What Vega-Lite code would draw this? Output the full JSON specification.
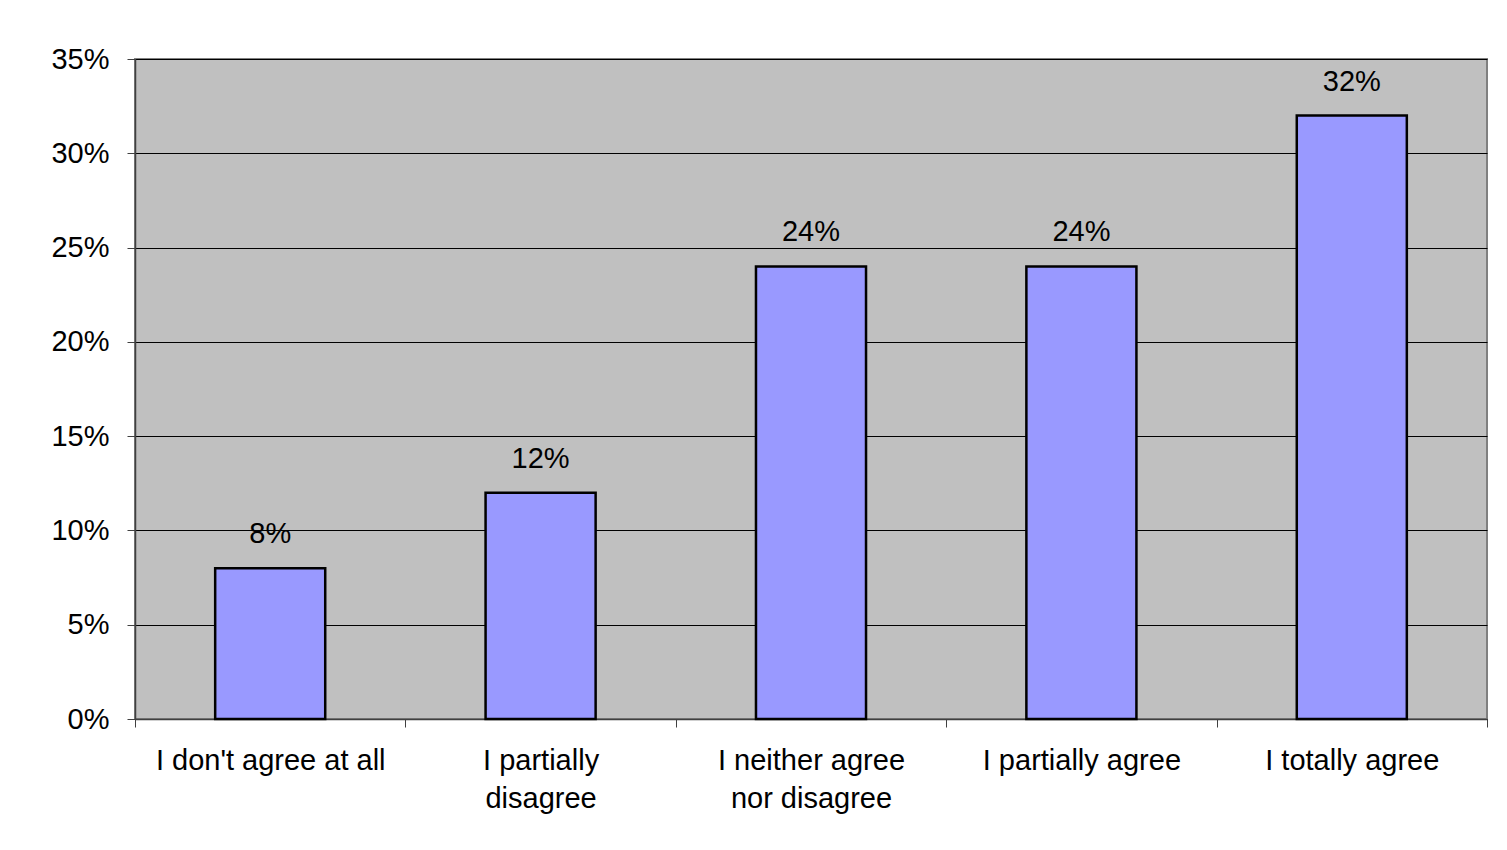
{
  "$schema": "https://vega.github.io/schema/vega-lite/v6.json",
  "width": 1352,
  "height": 660,
  "autosize": {"type": "none"},
  "padding": {"left": 135, "top": 59, "right": 20, "bottom": 131},
  "background": "white",
  "config": {
    "view": {"fill": "#C0C0C0", "stroke": "#808080", "strokeWidth": 2},
    "font": "Liberation Sans"
  },
  "data": {
    "values": [
      {"answer": "I don't agree at all", "share": 0.08},
      {"answer": "I partially disagree", "share": 0.12},
      {"answer": "I neither agree nor disagree", "share": 0.24},
      {"answer": "I partially agree", "share": 0.24},
      {"answer": "I totally agree", "share": 0.32}
    ]
  },
  "encoding": {
    "x": {
      "field": "answer",
      "type": "nominal",
      "sort": null,
      "scale": {"paddingInner": 0, "paddingOuter": 0},
      "axis": {
        "title": null,
        "labelAngle": 0,
        "labelLimit": 0,
        "tickBand": "extent",
        "tickSize": 8,
        "tickColor": "#404040",
        "domainColor": "#404040",
        "domainWidth": 1.5,
        "labelFontSize": 29,
        "labelColor": "black",
        "labelPadding": 19,
        "labelLineHeight": 38,
        "labelBaseline": "top",
        "labelExpr": "datum.value == 'I partially disagree' ? ['I partially', 'disagree'] : datum.value == 'I neither agree nor disagree' ? ['I neither agree', 'nor disagree'] : datum.value"
      }
    },
    "y": {
      "field": "share",
      "type": "quantitative",
      "scale": {"domain": [0, 0.35], "nice": false},
      "axis": {
        "title": null,
        "values": [0, 0.05, 0.1, 0.15, 0.2, 0.25, 0.3, 0.35],
        "format": ".0%",
        "grid": true,
        "gridColor": "black",
        "gridWidth": 1,
        "gridOpacity": 1,
        "tickSize": 8,
        "tickColor": "#404040",
        "domainColor": "#404040",
        "domainWidth": 1.5,
        "labelFontSize": 29,
        "labelColor": "black",
        "labelPadding": 18
      }
    }
  },
  "layer": [
    {
      "mark": {"type": "bar", "width": {"band": 0.407}, "fill": "#9999FF", "stroke": "black", "strokeWidth": 2.5}
    },
    {
      "mark": {"type": "text", "dy": -25, "baseline": "alphabetic", "fontSize": 29, "color": "black"},
      "encoding": {"text": {"field": "share", "type": "quantitative", "format": ".0%"}}
    }
  ]
}
